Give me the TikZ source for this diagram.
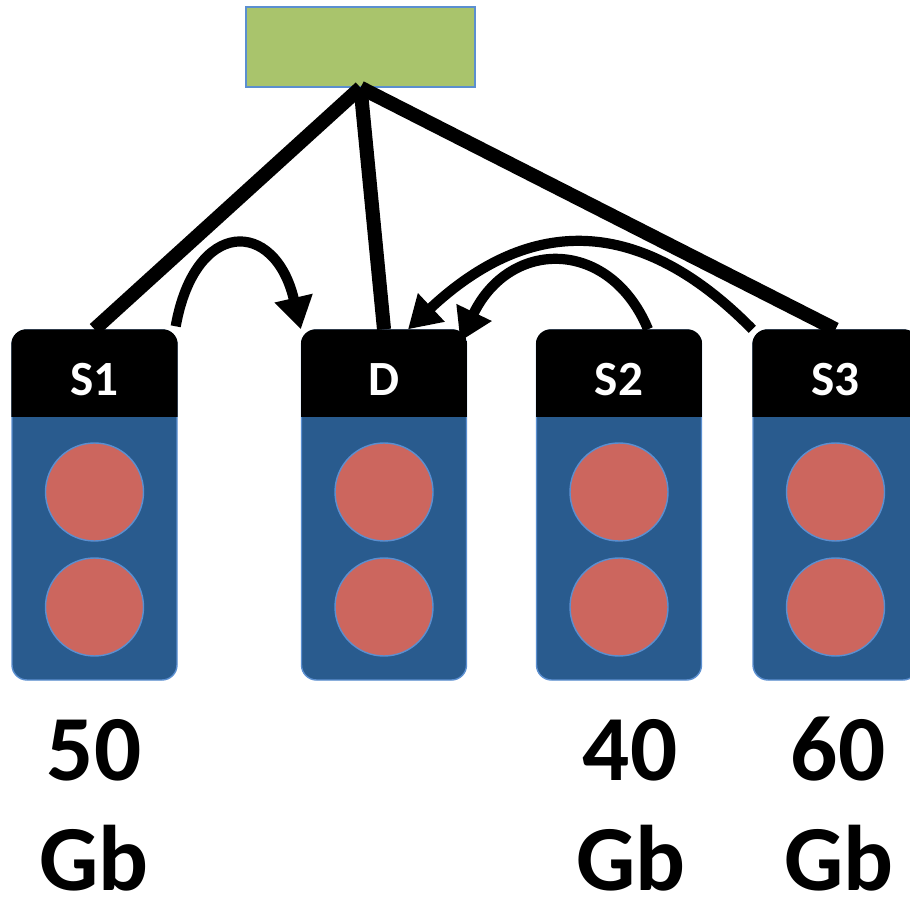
\documentclass[tikz,border=0pt]{standalone}
\usepackage{fontspec}
\setmainfont{Carlito}
\usetikzlibrary{arrows.meta}

\definecolor{ctrlgreen}{HTML}{A9C46C}
\definecolor{edgeblue}{HTML}{5B8FD0}
\definecolor{bodyblue}{HTML}{295B8E}
\definecolor{diskred}{HTML}{CC665E}

\tikzset{
	server/.style={draw=edgeblue, fill=bodyblue, rounded corners=0.15cm, minimum width=1.65cm, minimum height=3.5cm, inner sep=0pt},
	disk/.style={circle, draw=edgeblue, fill=diskred, minimum size=0.98cm, inner sep=0pt},
	tag/.style={text=white, font=\fontsize{14}{16}\selectfont\bfseries},
	sizelabel/.style={anchor=base, inner sep=0pt, font=\fontsize{26.5}{30}\selectfont\bfseries},
	link/.style={line width=4pt},
	copy/.style={line width=2.9pt, -{Triangle[length=0.32cm, width=0.37cm]}},
}

\begin{document}
\begin{tikzpicture}
		\useasboundingbox (0,0) rectangle (9.10,8.98);

		% controller
		\node[draw=edgeblue, fill=ctrlgreen, minimum width=2.29cm, minimum height=0.8cm] (ctrl) at (3.605,8.51) {};

		% servers
		\node[server] (s1) at (0.945,3.93) {};
		\node[server] (d) at (3.84,3.93) {};
		\node[server] (s2) at (6.19,3.93) {};
		\node[server] (s3) at (8.355,3.93) {};

		\begin{scope}
			\clip[rounded corners=0.15cm] (s1.south west) rectangle (s1.north east);
			\fill[black] (s1.north west) rectangle ([yshift=-0.88cm]s1.north east);
		\end{scope}
		\begin{scope}
			\clip[rounded corners=0.15cm] (d.south west) rectangle (d.north east);
			\fill[black] (d.north west) rectangle ([yshift=-0.88cm]d.north east);
		\end{scope}
		\begin{scope}
			\clip[rounded corners=0.15cm] (s2.south west) rectangle (s2.north east);
			\fill[black] (s2.north west) rectangle ([yshift=-0.88cm]s2.north east);
		\end{scope}
		\begin{scope}
			\clip[rounded corners=0.15cm] (s3.south west) rectangle (s3.north east);
			\fill[black] (s3.north west) rectangle ([yshift=-0.88cm]s3.north east);
		\end{scope}

		\node[tag] (s1tag) at (0.945,5.18) {S1};
		\node[tag] (dtag) at (3.84,5.18) {D};
		\node[tag] (s2tag) at (6.19,5.18) {S2};
		\node[tag] (s3tag) at (8.355,5.18) {S3};

		% disks
		\node[disk] (s1a) at (0.945,4.06) {};
		\node[disk] (s1b) at (0.945,2.91) {};
		\node[disk] (da) at (3.84,4.06) {};
		\node[disk] (db) at (3.84,2.91) {};
		\node[disk] (s2a) at (6.19,4.06) {};
		\node[disk] (s2b) at (6.19,2.91) {};
		\node[disk] (s3a) at (8.355,4.06) {};
		\node[disk] (s3b) at (8.355,2.91) {};

		% links to the controller
		\draw[link] (ctrl.south) -- (s1.north);
		\draw[link] (ctrl.south) -- (d.north);
		\draw[link] (ctrl.south) -- (s3.north);

		% copies into D
		\draw[copy] ([xshift=-0.02cm,yshift=0.03cm]s1.north east) .. controls (1.95,6.8) and (2.75,6.8) .. (d.north west);
		\draw[copy] (s3.north west) .. controls (6.4,6.83) and (5.3,6.83) .. ([xshift=0.24cm]d.north);
		\draw[copy] ([xshift=0.29cm]s2.north) .. controls (6.1,6.6) and (5.1,6.6) .. ([xshift=-0.07cm,yshift=-0.12cm]d.north east);

		% sizes
		\node[sizelabel] (s1size) at (0.94,1.18) {50};
		\node[sizelabel] (s1unit) at (0.94,0.08) {Gb};
		\node[sizelabel] (s2size) at (6.30,1.18) {40};
		\node[sizelabel] (s2unit) at (6.31,0.08) {Gb};
		\node[sizelabel] (s3size) at (8.38,1.18) {60};
		\node[sizelabel] (s3unit) at (8.39,0.08) {Gb};
	\end{tikzpicture}
\end{document}
